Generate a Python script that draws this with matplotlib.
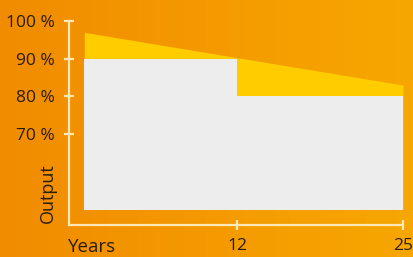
import numpy as np
import matplotlib.pyplot as plt
from matplotlib.colors import LinearSegmentedColormap

# data
years_split = [0, 12, 25]
guaranteed = [90, 80]          # stepped guarantee (grey)
linear_start, linear_end = 97, 83   # linear guarantee (yellow)
base = 50
yticks = [70, 80, 90, 100]
ytick_labels = ['70 %', '80 %', '90 %', '100 %']
xticks = [12, 25]

plt.rcParams['font.family'] = ['Open Sans', 'DejaVu Sans']
text_col = '#2a1d05'
line_col = '#ffe8b8'

fig = plt.figure(figsize=(4.13, 2.57), dpi=100)

# orange gradient background
bg = fig.add_axes([0, 0, 1, 1])
cmap = LinearSegmentedColormap.from_list('bg', ['#f18c00', '#f7a700'])
bg.imshow(np.linspace(0, 1, 256)[None, :], cmap=cmap, aspect='auto', extent=[0, 1, 0, 1])
bg.set_axis_off()

ax = fig.add_axes([69/413, 32/257, 334/413, 204/257])
ax.set_facecolor('none')
ymin = 100 - (225 - 21) / 37.7 * 10
ax.set_xlim(-1.2, 25)
ax.set_ylim(ymin, 100)

# yellow linear guarantee
xl = np.array([years_split[0], years_split[-1]])
yl = np.array([linear_start, linear_end])
ax.fill_between(xl, yl, base, color='#ffcc00', lw=0, zorder=1)

# grey stepped guarantee
for i in range(len(guaranteed)):
    ax.fill_between([years_split[i], years_split[i + 1]], guaranteed[i], base,
                    color='#ededed', lw=0, zorder=2)

for s in ['top', 'right']:
    ax.spines[s].set_visible(False)
for s in ['left', 'bottom']:
    ax.spines[s].set_color(line_col)
    ax.spines[s].set_linewidth(1.6)

ax.set_yticks(yticks)
ax.set_yticklabels(ytick_labels)
ax.set_xticks(xticks)
ax.set_xticklabels([str(t) for t in xticks])
ax.tick_params(direction='inout', length=7, width=1.6, color=line_col,
               labelcolor=text_col, labelsize=12.5, pad=6)
ax.tick_params(axis='y', pad=7)

fig.text(68/413, 1 - 247/257, 'Years', ha='left', va='center', fontsize=13.5, color=text_col)
fig.text(48/413, 1 - 193/257, 'Output', ha='center', va='center', rotation=90,
         fontsize=13, color=text_col)

fig.savefig('out.png', dpi=100)
